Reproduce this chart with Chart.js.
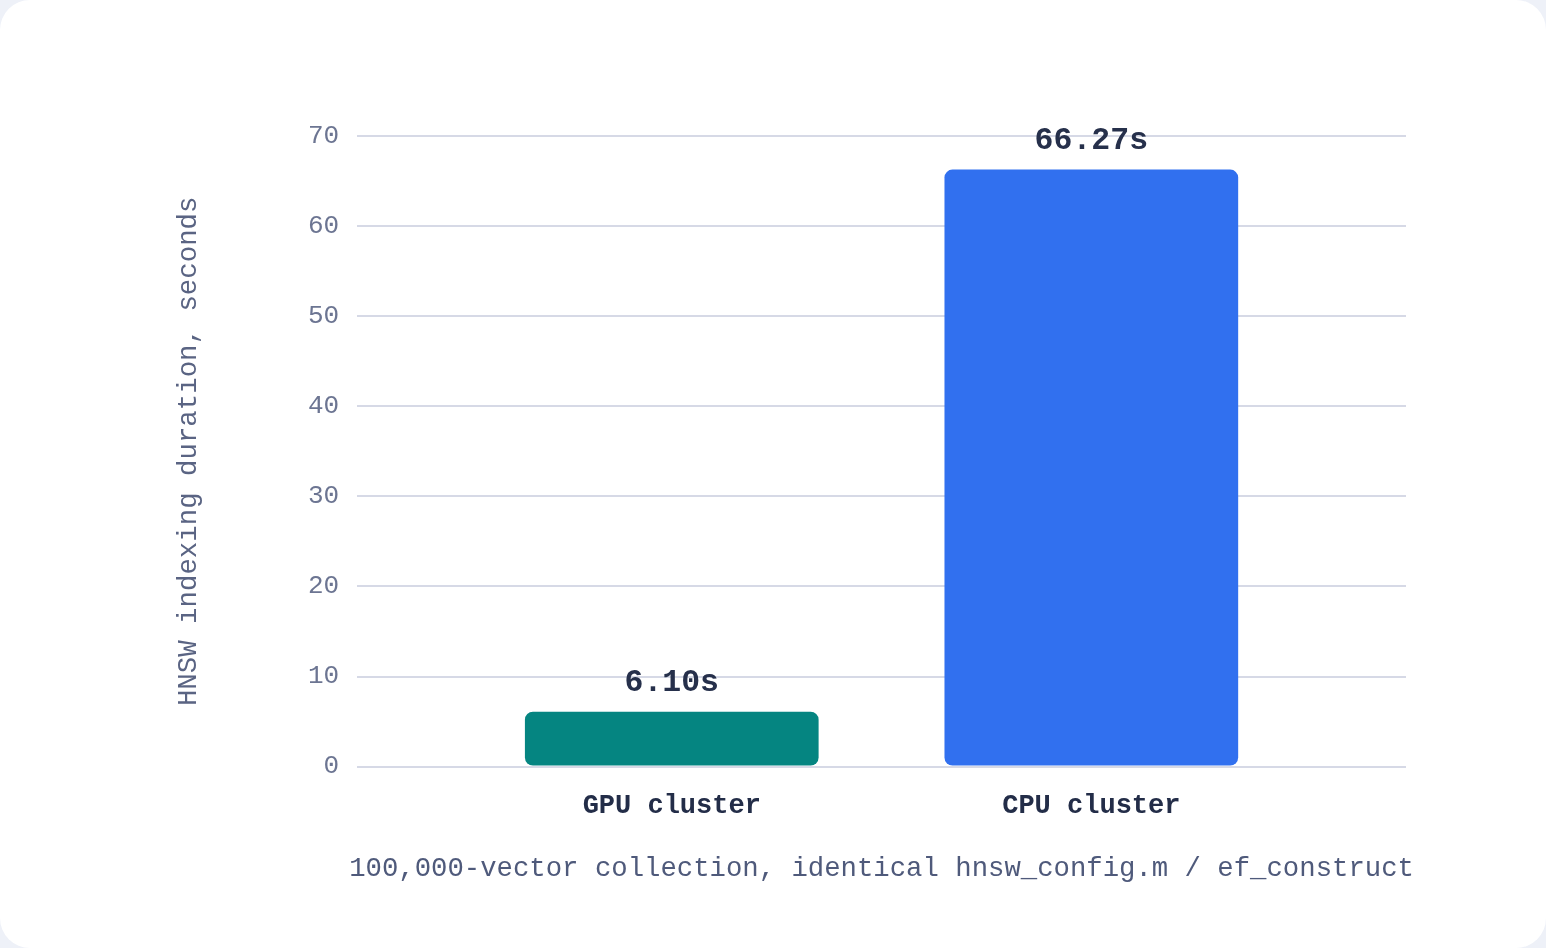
<!DOCTYPE html>
<html>
<head>
<meta charset="utf-8">
<script src="https://cdn.jsdelivr.net/npm/chart.js@4.4.1/dist/chart.umd.min.js"></script>
<style>
  html, body { margin: 0; padding: 0; background: #eef1f8; }
  .card {
    width: 1546px;
    height: 948px;
    background: #ffffff;
    border-radius: 30px;
    overflow: hidden;
  }
</style>
</head>
<body>
<div class="card"><canvas id="durationChart" width="1546" height="948"></canvas></div>
<script>
const categories = ["GPU cluster", "CPU cluster"];
const durations = [6.10, 66.27];
const yTicks = [0, 10, 20, 30, 40, 50, 60, 70];
const xTitle = "100,000-vector collection, identical hnsw_config.m / ef_construct";

const barColors = ["#058581", "#3170ef"];
const monoFont = "'Liberation Mono', 'DejaVu Sans Mono', monospace";

// value text above each bar
const valueLabels = {
  id: "valueLabels",
  afterDatasetsDraw(chart) {
    const ctx = chart.ctx;
    const meta = chart.getDatasetMeta(0);
    ctx.save();
    ctx.font = "bold 31.5px " + monoFont;
    ctx.fillStyle = "#26304b";
    ctx.textAlign = "center";
    ctx.textBaseline = "alphabetic";
    meta.data.forEach((bar, i) => {
      ctx.fillText(durations[i].toFixed(2) + "s", bar.x, bar.y - 21);
    });
    ctx.restore();
  }
};

// x title drawn by hand so it is not squeezed to the plot width
const bottomTitle = {
  id: "bottomTitle",
  afterDraw(chart) {
    const ctx = chart.ctx;
    const area = chart.chartArea;
    ctx.save();
    ctx.font = "27.3px " + monoFont;
    ctx.fillStyle = "#4f5a7b";
    ctx.textAlign = "center";
    ctx.textBaseline = "middle";
    ctx.fillText(xTitle, (area.left + area.right) / 2, area.bottom + 102);
    ctx.restore();
  }
};

const chartCanvas = document.getElementById("durationChart");

new Chart(chartCanvas, {
  type: "bar",
  data: {
    datasets: [
      {
        data: categories.map((c, i) => ({ x: i, y: durations[i] })),
        backgroundColor: barColors,
        borderRadius: 8,
        borderSkipped: false,
        categoryPercentage: 1,
        barPercentage: 0.7
      }
    ]
  },
  options: {
    responsive: false,
    animation: false,
    layout: {
      padding: { top: 136, right: 140, bottom: 111, left: 168 }
    },
    plugins: {
      legend: { display: false },
      tooltip: { enabled: false }
    },
    scales: {
      x: {
        type: "linear",
        bounds: "data",
        offset: false,
        min: -0.75,
        max: 1.75,
        afterBuildTicks: scale => {
          scale.ticks = categories.map((c, i) => ({ value: i }));
        },
        ticks: {
          callback: value => categories[value] ?? "",
          font: { family: monoFont, size: 27, weight: "bold" },
          color: "#232d48",
          padding: 15,
          maxRotation: 0,
          autoSkip: false
        },
        grid: { display: false },
        border: { display: false }
      },
      y: {
        min: 0,
        max: 70,
        afterBuildTicks: scale => {
          scale.ticks = yTicks.map(v => ({ value: v }));
        },
        ticks: {
          font: { family: monoFont, size: 26 },
          color: "#6c7592",
          padding: 18
        },
        grid: {
          color: "#d6d9e6",
          lineWidth: 2,
          drawTicks: false
        },
        border: { display: false },
        title: {
          display: true,
          text: "HNSW indexing duration, seconds",
          font: { family: monoFont, size: 27.4 },
          color: "#5a6483",
          padding: { top: 4, bottom: 85 }
        }
      }
    }
  },
  plugins: [valueLabels, bottomTitle]
});
</script>
</body>
</html>
